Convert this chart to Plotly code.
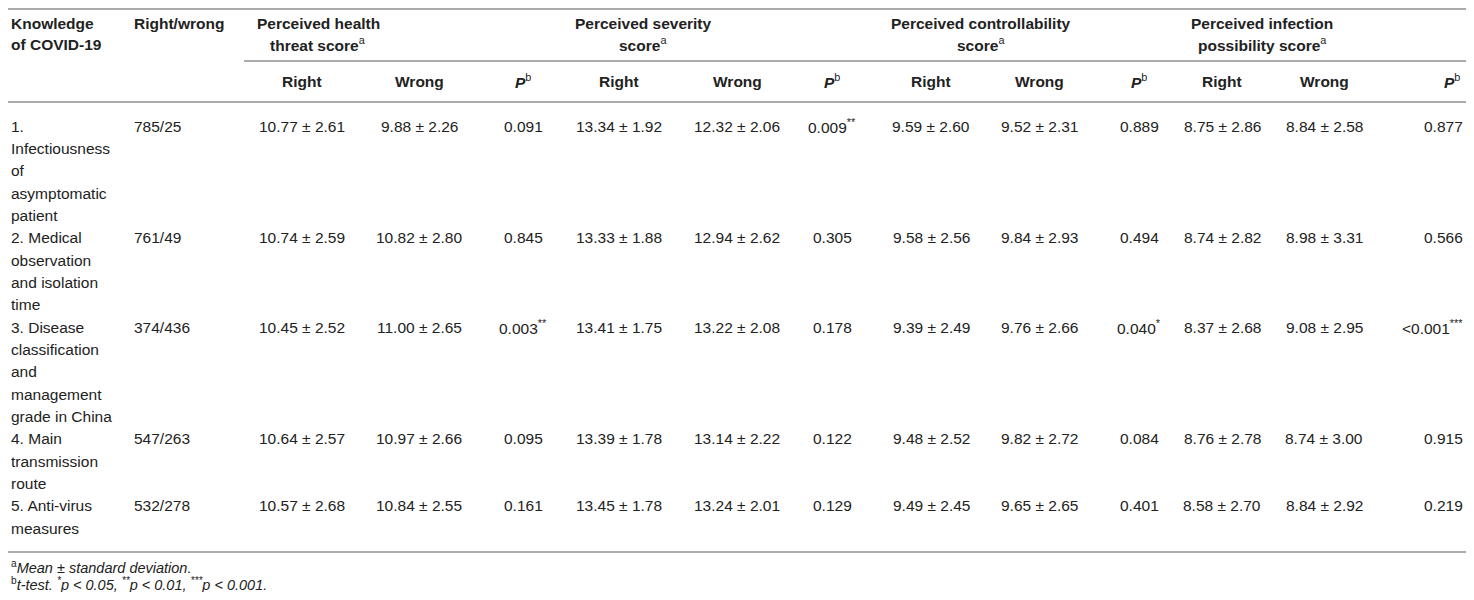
import plotly.graph_objects as go

# rows of the table (knowledge item, wrapped as in the source)
knowledge = [
    ["1.", "Infectiousness", "of", "asymptomatic", "patient"],
    ["2. Medical", "observation", "and isolation", "time"],
    ["3. Disease", "classification", "and", "management", "grade in China"],
    ["4. Main", "transmission", "route"],
    ["5. Anti-virus", "measures"],
]
right_wrong = ["785/25", "761/49", "374/436", "547/263", "532/278"]

# mean, sd
health_right = [(10.77, 2.61), (10.74, 2.59), (10.45, 2.52), (10.64, 2.57), (10.57, 2.68)]
health_wrong = [(9.88, 2.26), (10.82, 2.80), (11.00, 2.65), (10.97, 2.66), (10.84, 2.55)]
health_p = ["0.091", "0.845", "0.003**", "0.095", "0.161"]

severity_right = [(13.34, 1.92), (13.33, 1.88), (13.41, 1.75), (13.39, 1.78), (13.45, 1.78)]
severity_wrong = [(12.32, 2.06), (12.94, 2.62), (13.22, 2.08), (13.14, 2.22), (13.24, 2.01)]
severity_p = ["0.009**", "0.305", "0.178", "0.122", "0.129"]

control_right = [(9.59, 2.60), (9.58, 2.56), (9.39, 2.49), (9.48, 2.52), (9.49, 2.45)]
control_wrong = [(9.52, 2.31), (9.84, 2.93), (9.76, 2.66), (9.82, 2.72), (9.65, 2.65)]
control_p = ["0.889", "0.494", "0.040*", "0.084", "0.401"]

infection_right = [(8.75, 2.86), (8.74, 2.82), (8.37, 2.68), (8.76, 2.78), (8.58, 2.70)]
infection_wrong = [(8.84, 2.58), (8.98, 3.31), (9.08, 2.95), (8.74, 3.00), (8.84, 2.92)]
infection_p = ["0.877", "0.566", "<0.001***", "0.915", "0.219"]

groups = [
    ["Perceived health", "threat score"],
    ["Perceived severity", "score"],
    ["Perceived controllability", "score"],
    ["Perceived infection", "possibility score"],
]
sub_heads = ["Right", "Wrong", "P"]
footnotes = [
    "<sup>a</sup><i>Mean ± standard deviation.</i>",
    "<sup>b</sup><i>t-test. <sup>*</sup>p &lt; 0.05, <sup>**</sup>p &lt; 0.01, <sup>***</sup>p &lt; 0.001.</i>",
]

# layout in page pixels (page body keeps an 8px margin)
FONT = "Liberation Sans, Arial, sans-serif"
TXT = "#222222"
RULE = "#ababab"
SIZE = 15.5
M = 8
LEFT = 8.5
group_x = [318, 643, 981, 1262]
col_x = [[302, 419, 523], [619, 737, 832], [931, 1039, 1139], [1222, 1324, 1452]]
last_p_right = 1465
line0, step = 126, 22.35

columns = [
    (health_right, health_wrong, health_p),
    (severity_right, severity_wrong, severity_p),
    (control_right, control_wrong, control_p),
    (infection_right, infection_wrong, infection_p),
]


def ms(v):
    return f"{v[0]:.2f} ± {v[1]:.2f}"


def pfmt(s):
    stars = len(s) - len(s.rstrip("*"))
    s = s.rstrip("*").replace("<", "&lt;")
    return s + (f"<sup>{'*' * stars}</sup>" if stars else "")


ann = []


def put(x, y, text, anchor="center", size=SIZE):
    ann.append(dict(x=x, y=y, xref="x", yref="y", text=text, showarrow=False,
                    xanchor=anchor, yanchor="middle",
                    font=dict(family=FONT, size=size, color=TXT)))


# header
put(LEFT, 23, "<b>Knowledge</b>", "left")
put(LEFT, 44, "<b>of COVID-19</b>", "left")
put(132, 23, "<b>Right/wrong</b>", "left")
for g, gx in zip(groups, group_x):
    put(gx, 23, f"<b>{g[0]}</b>")
    put(gx, 44, f"<b>{g[1]}</b><sup>a</sup>")
for cx in col_x:
    put(cx[0], 81, f"<b>{sub_heads[0]}</b>")
    put(cx[1], 81, f"<b>{sub_heads[1]}</b>")
    put(cx[2], 81, f"<b><i>{sub_heads[2]}</i></b><sup>b</sup>")

# body
n = 0
for i, lines in enumerate(knowledge):
    y_row = line0 + n * step
    for k, ln in enumerate(lines):
        put(LEFT, line0 + (n + k) * step, ln, "left")
    put(132, y_row, right_wrong[i], "left")
    for j, ((r, w, p), cx) in enumerate(zip(columns, col_x)):
        put(cx[0], y_row, ms(r[i]))
        put(cx[1], y_row, ms(w[i]))
        if j == len(columns) - 1:
            put(last_p_right, y_row, pfmt(p[i]), "right")
        else:
            put(cx[2], y_row, pfmt(p[i]))
    n += len(lines)

put(LEFT, 567, footnotes[0], "left", 14.5)
put(LEFT, 584, footnotes[1], "left", 14.5)

rules = [(M, 1474 - M, 4), (244, 1474 - M, 61), (M, 1474 - M, 102), (M, 1474 - M, 552)]
shapes = [dict(type="line", xref="x", yref="y", x0=a, x1=b, y0=max(y, M + 1), y1=max(y, M + 1),
               line=dict(color=RULE, width=2)) for a, b, y in rules]

fig = go.Figure()
fig.update_layout(
    width=1474 - 2 * M, height=600 - 2 * M,
    margin=dict(l=0, r=0, t=0, b=0),
    paper_bgcolor="white", plot_bgcolor="white",
    xaxis=dict(range=[M, 1474 - M], visible=False, fixedrange=True),
    yaxis=dict(range=[600 - M, M], visible=False, fixedrange=True),
    annotations=ann, shapes=shapes, showlegend=False,
)
fig.write_html("out.html")
